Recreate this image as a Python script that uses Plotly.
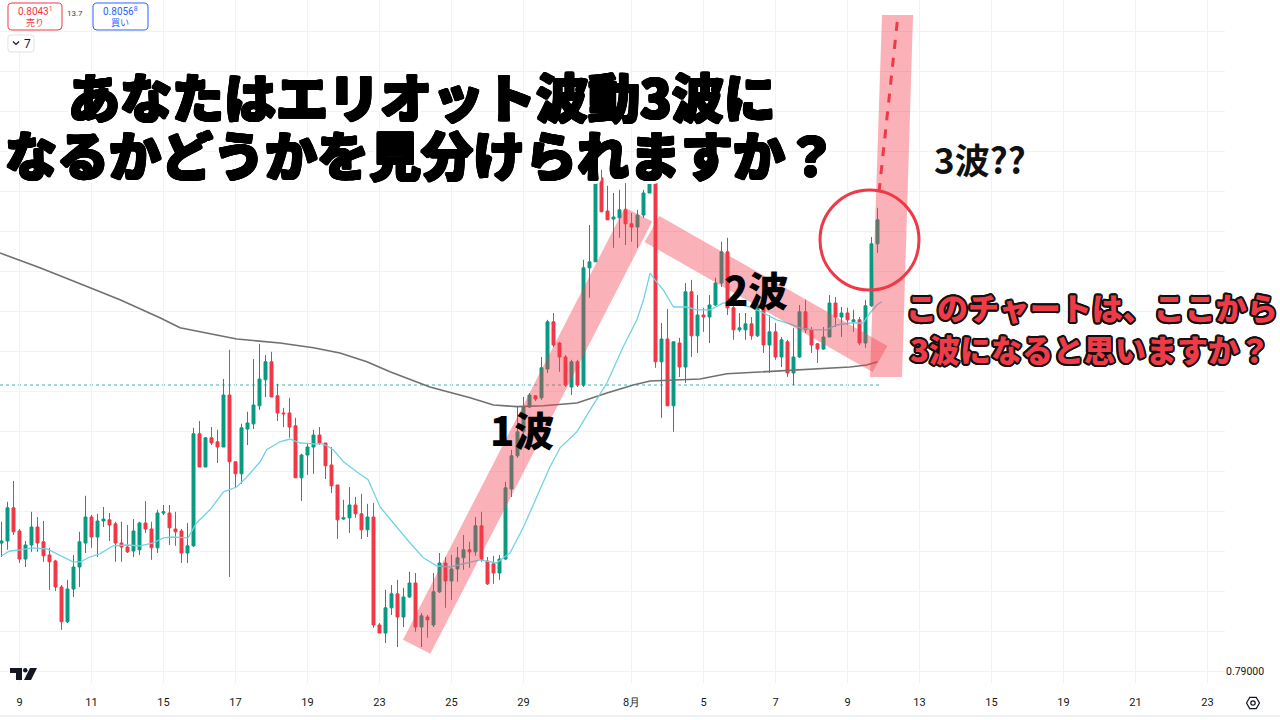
import math
import plotly.graph_objects as go

# ---------------- data (4H candles) ----------------
opens = [0.79320, 0.79325, 0.79408, 0.79350, 0.79280, 0.79315, 0.79360, 0.79323, 0.79290, 0.79275,
         0.79210, 0.79123, 0.79205, 0.79260, 0.79320, 0.79385, 0.79335, 0.79375, 0.79378, 0.79368,
         0.79320, 0.79310, 0.79300, 0.79303, 0.79370, 0.79355, 0.79308, 0.79395, 0.79395, 0.79355,
         0.79350, 0.79295, 0.79313, 0.79593, 0.79510, 0.79583, 0.79573, 0.79560, 0.79690, 0.79523,
         0.79493, 0.79605, 0.79618, 0.79663, 0.79728, 0.79773, 0.79688, 0.79645, 0.79645, 0.79613,
         0.79483, 0.79540, 0.79560, 0.79590, 0.79570, 0.79515, 0.79465, 0.79380, 0.79383, 0.79415,
         0.79393, 0.79353, 0.79385, 0.79115, 0.79095, 0.79158, 0.79193, 0.79135, 0.79185, 0.79220,
         0.79110, 0.79135, 0.79115, 0.79198, 0.79270, 0.79225, 0.79255, 0.79283, 0.79303, 0.79298,
         0.79363, 0.79275, 0.79268, 0.79245, 0.79280, 0.79455, 0.79538, 0.79598, 0.79660, 0.79688,
         0.79683, 0.79755, 0.79873, 0.79820, 0.79785, 0.79710, 0.79773, 0.79715, 0.80008, 0.80023,
         0.80233, 0.80150, 0.80130, 0.80133, 0.80153, 0.80118, 0.80110, 0.80140, 0.80195, 0.80228,
         0.79773, 0.79830, 0.79663, 0.79820, 0.79760, 0.79948, 0.79838, 0.79890, 0.79885, 0.79915,
         0.79970, 0.80048, 0.79908, 0.79853, 0.79853, 0.79868, 0.79838, 0.79915, 0.79815, 0.79848,
         0.79785, 0.79823, 0.79745, 0.79785, 0.79898, 0.79853, 0.79818, 0.79805, 0.79835, 0.79920,
         0.79885, 0.79895, 0.79873, 0.79878, 0.79820, 0.79913, 0.80068]
highs = [0.79373, 0.79423, 0.79475, 0.79355, 0.79325, 0.79398, 0.79385, 0.79375, 0.79308, 0.79278,
         0.79215, 0.79228, 0.79290, 0.79348, 0.79438, 0.79390, 0.79393, 0.79410, 0.79395, 0.79373,
         0.79373, 0.79365, 0.79380, 0.79373, 0.79425, 0.79373, 0.79403, 0.79415, 0.79415, 0.79398,
         0.79355, 0.79370, 0.79608, 0.79625, 0.79585, 0.79610, 0.79603, 0.79730, 0.79803, 0.79523,
         0.79618, 0.79648, 0.79780, 0.79818, 0.79790, 0.79798, 0.79718, 0.79658, 0.79683, 0.79633,
         0.79543, 0.79570, 0.79603, 0.79610, 0.79570, 0.79560, 0.79465, 0.79428, 0.79460, 0.79435,
         0.79443, 0.79418, 0.79420, 0.79120, 0.79203, 0.79215, 0.79228, 0.79208, 0.79248, 0.79245,
         0.79145, 0.79140, 0.79245, 0.79295, 0.79285, 0.79290, 0.79310, 0.79340, 0.79323, 0.79385,
         0.79398, 0.79285, 0.79288, 0.79290, 0.79473, 0.79553, 0.79660, 0.79685, 0.79695, 0.79690,
         0.79785, 0.79878, 0.79895, 0.79823, 0.79790, 0.79778, 0.79778, 0.80028, 0.80115, 0.80265,
         0.80253, 0.80213, 0.80195, 0.80203, 0.80220, 0.80145, 0.80153, 0.80203, 0.80253, 0.80258,
         0.79870, 0.79905, 0.79823, 0.79833, 0.79970, 0.79978, 0.79940, 0.79908, 0.79940, 0.79983,
         0.80073, 0.80083, 0.79923, 0.79895, 0.79895, 0.79885, 0.79923, 0.79920, 0.79890, 0.79870,
         0.79835, 0.79828, 0.79858, 0.79915, 0.79928, 0.79860, 0.79820, 0.79860, 0.79940, 0.79935,
         0.79910, 0.79908, 0.79903, 0.79885, 0.79928, 0.80085, 0.80158]
lows = [0.79285, 0.79303, 0.79340, 0.79270, 0.79260, 0.79298, 0.79298, 0.79273, 0.79203, 0.79200,
        0.79103, 0.79120, 0.79185, 0.79210, 0.79295, 0.79308, 0.79285, 0.79360, 0.79325, 0.79273,
        0.79273, 0.79295, 0.79285, 0.79290, 0.79345, 0.79278, 0.79295, 0.79390, 0.79315, 0.79313,
        0.79270, 0.79270, 0.79310, 0.79510, 0.79510, 0.79565, 0.79520, 0.79560, 0.79235, 0.79458,
        0.79468, 0.79565, 0.79605, 0.79653, 0.79685, 0.79685, 0.79625, 0.79610, 0.79583, 0.79483,
        0.79425, 0.79490, 0.79493, 0.79565, 0.79480, 0.79445, 0.79330, 0.79378, 0.79345, 0.79383,
        0.79330, 0.79335, 0.79108, 0.79095, 0.79070, 0.79140, 0.79060, 0.79110, 0.79183, 0.79098,
        0.79060, 0.79083, 0.79110, 0.79195, 0.79158, 0.79178, 0.79223, 0.79253, 0.79258, 0.79288,
        0.79273, 0.79215, 0.79218, 0.79228, 0.79278, 0.79435, 0.79533, 0.79590, 0.79658, 0.79675,
        0.79678, 0.79745, 0.79810, 0.79748, 0.79710, 0.79690, 0.79710, 0.79710, 0.79933, 0.80023,
        0.80148, 0.80128, 0.80058, 0.80083, 0.80065, 0.80073, 0.80058, 0.80133, 0.80195, 0.79758,
        0.79633, 0.79663, 0.79598, 0.79735, 0.79720, 0.79785, 0.79795, 0.79848, 0.79820, 0.79913,
        0.79960, 0.79890, 0.79828, 0.79848, 0.79828, 0.79828, 0.79835, 0.79795, 0.79745, 0.79778,
        0.79760, 0.79735, 0.79715, 0.79783, 0.79845, 0.79795, 0.79770, 0.79803, 0.79835, 0.79860,
        0.79835, 0.79865, 0.79848, 0.79815, 0.79808, 0.79910, 0.80045]
closes = [0.79325, 0.79408, 0.79348, 0.79280, 0.79315, 0.79360, 0.79320, 0.79288, 0.79273, 0.79210,
          0.79123, 0.79205, 0.79260, 0.79323, 0.79385, 0.79335, 0.79375, 0.79380, 0.79365, 0.79320,
          0.79310, 0.79298, 0.79350, 0.79370, 0.79355, 0.79308, 0.79395, 0.79398, 0.79358, 0.79348,
          0.79295, 0.79313, 0.79593, 0.79510, 0.79583, 0.79570, 0.79560, 0.79690, 0.79523, 0.79493,
          0.79608, 0.79620, 0.79665, 0.79730, 0.79773, 0.79685, 0.79645, 0.79643, 0.79610, 0.79483,
          0.79540, 0.79560, 0.79590, 0.79570, 0.79513, 0.79463, 0.79378, 0.79383, 0.79415, 0.79393,
          0.79353, 0.79385, 0.79115, 0.79095, 0.79158, 0.79193, 0.79135, 0.79185, 0.79220, 0.79110,
          0.79138, 0.79128, 0.79198, 0.79270, 0.79225, 0.79255, 0.79283, 0.79303, 0.79298, 0.79363,
          0.79278, 0.79218, 0.79245, 0.79280, 0.79458, 0.79538, 0.79598, 0.79660, 0.79690, 0.79680,
          0.79758, 0.79873, 0.79815, 0.79785, 0.79715, 0.79773, 0.79715, 0.80008, 0.80023, 0.80233,
          0.80148, 0.80128, 0.80135, 0.80153, 0.80118, 0.80110, 0.80140, 0.80195, 0.80230, 0.79773,
          0.79830, 0.79663, 0.79823, 0.79760, 0.79948, 0.79838, 0.79890, 0.79885, 0.79915, 0.79970,
          0.80048, 0.79908, 0.79853, 0.79858, 0.79868, 0.79838, 0.79915, 0.79815, 0.79848, 0.79785,
          0.79828, 0.79745, 0.79785, 0.79898, 0.79853, 0.79815, 0.79805, 0.79835, 0.79920, 0.79885,
          0.79895, 0.79878, 0.79878, 0.79820, 0.79913, 0.80068, 0.80128]

# short moving average (cyan), sampled at candle positions
ema_x = [0, 1.4, 3.1, 5.25, 7.6, 9.75, 11.9, 13.1, 14.75, 16.4, 18.6, 20.9, 23.1, 25.25, 27,
         28.6, 30.25, 31.1, 32.5, 34.75, 37, 39.2, 40.9, 43.1, 44.2, 46.4, 48.1, 49.75, 52, 53.6,
         55.3, 57, 59.2, 61.1, 63.1, 65.9, 68.1, 70.3, 72.5, 74.75, 77.5, 79.75, 82.5, 84.75, 87,
         89.2, 91.4, 93.1, 95.9, 98.1, 100.9, 103.6, 105.9, 107, 108.1, 108.9, 110.3, 112, 114.2,
         115.9, 118.1, 120.3, 122.5, 124.75, 127, 129.2, 131.4, 133.1, 135.3, 137.5, 139.2, 141.4,
         143.6, 144.75, 145.9, 146.7]
ema_y = [0.79288, 0.79300, 0.79303, 0.79308, 0.79305, 0.79288, 0.79273, 0.79273, 0.79285, 0.79293,
         0.79313, 0.79315, 0.79313, 0.79320, 0.79333, 0.79335, 0.79333, 0.79333, 0.79370, 0.79403,
         0.79448, 0.79460, 0.79485, 0.79523, 0.79553, 0.79573, 0.79580, 0.79570, 0.79568, 0.79568,
         0.79553, 0.79523, 0.79498, 0.79478, 0.79410, 0.79358, 0.79320, 0.79283, 0.79263, 0.79260,
         0.79270, 0.79278, 0.79270, 0.79295, 0.79360, 0.79435, 0.79510, 0.79558, 0.79598, 0.79653,
         0.79720, 0.79810, 0.79878, 0.79928, 0.79995, 0.79978, 0.79953, 0.79910, 0.79910, 0.79903,
         0.79903, 0.79920, 0.79918, 0.79910, 0.79895, 0.79878, 0.79868, 0.79858, 0.79853, 0.79853,
         0.79865, 0.79870, 0.79870, 0.79895, 0.79915, 0.79923]

# long moving average (grey)
sma_x = [-0.25, 6.4, 13.1, 19.75, 26.4, 29.75, 39.2, 46.4, 52, 56.4, 60.9, 64.75, 71.4, 75.3, 78.1,
         82, 85.9, 90.3, 95.9, 100.9, 105.3, 108.1, 112, 116.4, 120.9, 127.5, 135.9, 141.4, 144.2, 146]
sma_y = [0.80045, 0.80008, 0.79968, 0.79928, 0.79883, 0.79858, 0.79830, 0.79820, 0.79808, 0.79795,
         0.79773, 0.79748, 0.79710, 0.79695, 0.79683, 0.79665, 0.79661, 0.79663, 0.79670, 0.79695,
         0.79715, 0.79725, 0.79728, 0.79730, 0.79743, 0.79748, 0.79755, 0.79760, 0.79765, 0.79773]

dotted_level = 0.79715

tick_idx = [3, 15, 27, 39, 51, 63, 75, 87, 105, 117, 129, 141, 153, 165, 177, 189, 201]
tick_txt = ["9", "11", "15", "17", "19", "23", "25", "29", "8月", "5", "7", "9", "13", "15", "19", "21", "23"]
price_ticks = [0.790, 0.791, 0.792, 0.793, 0.794, 0.795, 0.796, 0.797, 0.798, 0.799,
               0.800, 0.801, 0.802, 0.803, 0.804, 0.805, 0.806]
price_txt = ["0.79000"] + [""] * 16

# ---------------- geometry helpers (layout only) ----------------
W, H = 1280, 720
PL, PR, PT, PB = 0, 55, 0, 37
PW, PH = W - PL - PR, H - PT - PB
STEP, X0 = 6.0, 1.5
PRICE0, PY0, PPX = 0.79, 671, 2.5e-5


def dx(px):
    return (px - X0) / STEP


def dy(py):
    return PRICE0 + (PY0 - py) * PPX


def xp(px):
    return px / PW


def yp(py):
    return 1 - py / PH


def ring(r, color, n=16):
    return ", ".join(f"{r*math.cos(2*math.pi*k/n):.2f}px {r*math.sin(2*math.pi*k/n):.2f}px 0 {color}"
                     for k in range(n))


def poly(points):
    return "M " + " L ".join(f"{dx(a):.4f},{dy(b):.6f}" for a, b in points) + " Z"


def rrect(x0, y0, x1, y1, r):
    P = lambda a, b: f"{xp(a):.5f},{yp(b):.5f}"
    return (f"M {P(x0+r, y0)} L {P(x1-r, y0)} Q {P(x1, y0)} {P(x1, y0+r)} L {P(x1, y1-r)} "
            f"Q {P(x1, y1)} {P(x1-r, y1)} L {P(x0+r, y1)} Q {P(x0, y1)} {P(x0, y1-r)} "
            f"L {P(x0, y0+r)} Q {P(x0, y0)} {P(x0+r, y0)} Z")


fig = go.Figure()

fig.add_trace(go.Scatter(x=sma_x, y=sma_y, mode="lines", line=dict(color="#707070", width=1.6),
                         hoverinfo="skip", showlegend=False))
fig.add_trace(go.Scatter(x=ema_x, y=ema_y, mode="lines", line=dict(color="#6fd3e6", width=1.3),
                         hoverinfo="skip", showlegend=False))
fig.add_trace(go.Candlestick(x=list(range(len(opens))), open=opens, high=highs, low=lows, close=closes,
                             increasing=dict(line=dict(color="#089981", width=1), fillcolor="#089981"),
                             decreasing=dict(line=dict(color="#f23645", width=1), fillcolor="#f23645"),
                             whiskerwidth=0, hoverinfo="skip", showlegend=False))

shapes = []
shapes.append(dict(type="line", xref="x", yref="y", x0=dx(0), x1=dx(881), y0=dotted_level, y1=dotted_level,
                   line=dict(color="#3fb7ad", width=1, dash="dot"), layer="below"))
band = "rgba(242,62,78,0.40)"
shapes.append(dict(type="path", xref="x", yref="y", layer="above", fillcolor=band, line=dict(width=0),
                   path=poly([(403, 639.7), (430.4, 653.7), (652.2, 221.5), (624.8, 207.5)])))
shapes.append(dict(type="path", xref="x", yref="y", layer="above", fillcolor=band, line=dict(width=0),
                   path=poly([(659.4, 216), (887.4, 346), (872.6, 372), (644.6, 242)])))
shapes.append(dict(type="path", xref="x", yref="y", layer="above", fillcolor=band, line=dict(width=0),
                   path=poly([(882, 15), (913, 15), (902, 377), (870, 377)])))
shapes.append(dict(type="line", xref="x", yref="y", layer="above", x0=dx(879), y0=dy(192), x1=dx(898), y1=dy(15),
                   line=dict(color="#ee3a48", width=3, dash="dash")))
shapes.append(dict(type="circle", xref="x", yref="y", layer="above", x0=dx(820), x1=dx(919), y0=dy(290), y1=dy(190),
                   line=dict(color="#ee3a48", width=3)))
# top-left order buttons
shapes.append(dict(type="path", xref="paper", yref="paper", path=rrect(8, 3, 62, 30, 4),
                   line=dict(color="#f23645", width=1), fillcolor="white"))
shapes.append(dict(type="path", xref="paper", yref="paper", path=rrect(93, 3, 148, 30, 4),
                   line=dict(color="#2962ff", width=1), fillcolor="white"))
shapes.append(dict(type="path", xref="paper", yref="paper", path=rrect(8, 35, 34, 52, 3),
                   line=dict(color="#dfe2ea", width=1), fillcolor="white"))
shapes.append(dict(type="path", xref="paper", yref="paper",
                   path=f"M {xp(13)},{yp(41.5)} L {xp(16)},{yp(44.5)} L {xp(19)},{yp(41.5)}",
                   line=dict(color="#131722", width=1.2)))
# TradingView logo
shapes.append(dict(type="path", xref="paper", yref="paper", line=dict(width=0), fillcolor="#131722",
                   path=f"M {xp(10)},{yp(668)} L {xp(22)},{yp(668)} L {xp(22)},{yp(680)} L {xp(16)},{yp(680)} "
                        f"L {xp(16)},{yp(673)} L {xp(10)},{yp(673)} Z"))
shapes.append(dict(type="circle", xref="paper", yref="paper", line=dict(width=0), fillcolor="#131722",
                   x0=xp(23), x1=xp(27.5), y0=yp(672.5), y1=yp(668)))
shapes.append(dict(type="path", xref="paper", yref="paper", line=dict(width=0), fillcolor="#131722",
                   path=f"M {xp(30)},{yp(668)} L {xp(37)},{yp(668)} L {xp(31)},{yp(680)} L {xp(24)},{yp(680)} Z"))
# settings icon bottom right
hexpts = [(1253 + 6.5*math.cos(math.pi/3*k), 703 + 6.5*math.sin(math.pi/3*k)) for k in range(6)]
shapes.append(dict(type="path", xref="paper", yref="paper", line=dict(color="#131722", width=1.2),
                   path="M " + " L ".join(f"{xp(a):.5f},{yp(b):.5f}" for a, b in hexpts) + " Z"))
shapes.append(dict(type="circle", xref="paper", yref="paper", line=dict(color="#131722", width=1.2),
                   x0=xp(1250.8), x1=xp(1255.2), y0=yp(705.2), y1=yp(700.8)))
shapes.append(dict(type="line", xref="paper", yref="paper", x0=0, x1=xp(1280), y0=yp(716), y1=yp(716),
                   line=dict(color="#e0e3eb", width=1)))

title_shadow = ring(1.2, "#000", 12) + ", " + ring(2.7, "#fff", 16) + ", " + ring(3.7, "#fff", 20)
red_shadow = ring(1.9, "#111", 16) + ", " + ring(1.0, "#111", 8)
JP = "Noto Sans CJK JP"

ann = []
ann.append(dict(x=dx(422), y=dy(95), xref="x", yref="y", text="あなたはエリオット波動3波に",
                font=dict(family=JP, size=52, color="#000", weight=900, shadow=title_shadow)))
ann.append(dict(x=dx(421), y=dy(153), xref="x", yref="y", text="なるかどうかを見分けられますか？",
                font=dict(family=JP, size=52, color="#000", weight=900, shadow=title_shadow)))
ann.append(dict(x=dx(980), y=dy(158), xref="x", yref="y", text="3波??",
                font=dict(family=JP, size=35, color="#111", weight=600)))
ann.append(dict(x=dx(756), y=dy(289), xref="x", yref="y", text="2波",
                font=dict(family=JP, size=40, color="#000", weight=900)))
ann.append(dict(x=dx(522), y=dy(429), xref="x", yref="y", text="1波",
                font=dict(family=JP, size=40, color="#000", weight=900)))
ann.append(dict(x=dx(1092), y=dy(306), xref="x", yref="y", text="このチャートは、ここから",
                font=dict(family=JP, size=31, color="#ef3b47", weight=900, shadow=red_shadow)))
ann.append(dict(x=dx(1090), y=dy(348), xref="x", yref="y", text="3波になると思いますか？",
                font=dict(family=JP, size=31, color="#ef3b47", weight=900, shadow=red_shadow)))
# buttons text
ann.append(dict(x=xp(35), y=yp(10.5), xref="paper", yref="paper", text="0.8043<sup>1</sup>",
                font=dict(family="Roboto", size=10, color="#f23645")))
ann.append(dict(x=xp(35), y=yp(23), xref="paper", yref="paper", text="売り",
                font=dict(family=JP, size=9, color="#f23645")))
ann.append(dict(x=xp(120), y=yp(10.5), xref="paper", yref="paper", text="0.8056<sup>8</sup>",
                font=dict(family="Roboto", size=10, color="#2962ff")))
ann.append(dict(x=xp(120), y=yp(23), xref="paper", yref="paper", text="買い",
                font=dict(family=JP, size=9, color="#2962ff")))
ann.append(dict(x=xp(75), y=yp(14), xref="paper", yref="paper", text="13.7",
                font=dict(family="Roboto", size=8, color="#444")))
ann.append(dict(x=xp(27), y=yp(43.5), xref="paper", yref="paper", text="7",
                font=dict(family="Roboto", size=12, color="#131722")))
for a in ann:
    a.update(showarrow=False, xanchor="center", yanchor="middle")

fig.update_layout(
    width=W, height=H,
    margin=dict(l=PL, r=PR, t=PT, b=PB),
    paper_bgcolor="white", plot_bgcolor="white",
    showlegend=False,
    shapes=shapes, annotations=ann,
    xaxis=dict(range=[dx(0), dx(PW)], tickmode="array", tickvals=tick_idx, ticktext=tick_txt,
               showgrid=True, gridcolor="#f0f2f6", gridwidth=1, zeroline=False, showline=False,
               ticks="outside", ticklen=9, tickcolor="rgba(0,0,0,0)",
               tickfont=dict(family="Roboto", size=11, color="#131722"), rangeslider=dict(visible=False),
               fixedrange=True),
    yaxis=dict(range=[dy(PH), dy(0)], side="right", tickmode="array", tickvals=price_ticks, ticktext=price_txt,
               showgrid=True, gridcolor="#f0f2f6", gridwidth=1, zeroline=False, showline=False,
               ticks="", tickfont=dict(family="Roboto", size=10.5, color="#131722"), fixedrange=True),
)

fig.write_html("out.html", config={"displayModeBar": False},
               post_script="document.body.style.margin='0';document.body.style.overflow='hidden';")
